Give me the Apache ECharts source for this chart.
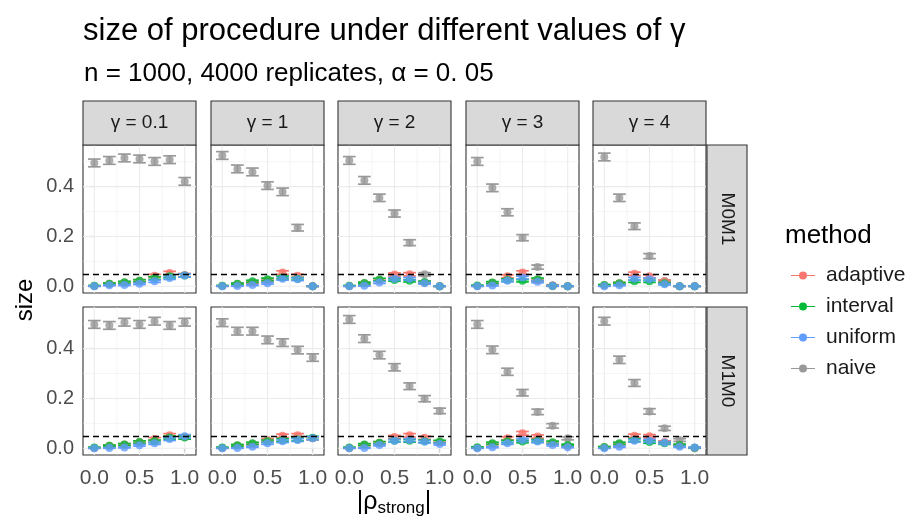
<!DOCTYPE html>
<html>
<head>
<meta charset="utf-8">
<script src="https://cdn.jsdelivr.net/npm/echarts@6/dist/echarts.min.js"></script>
<style>html,body{margin:0;padding:0;background:#fff;}#c{width:914px;height:525px;}</style>
</head>
<body>
<div id="c"></div>
<script>
// ---------- data ----------
const rho = [0, 0.1667, 0.3333, 0.5, 0.6667, 0.8333, 1];
const gammaLabels = ['γ = 0.1', 'γ = 1', 'γ = 2', 'γ = 3', 'γ = 4'];
const rowLabels = ['M0M1', 'M1M0'];
const methods = ['adaptive', 'interval', 'uniform', 'naive'];
const xMajor = [0, 0.5, 1];
const xMinor = [0.25, 0.75];
const yMajor = [0, 0.2, 0.4];
const yMinor = [0.1, 0.3, 0.5];
const xTickLabels = ['0.0', '0.5', '1.0'];
const yTickLabels = ['0.0', '0.2', '0.4'];
const alphaLevel = 0.05;
const nReplicates = 4000;

// rows: M0M1 ; each inner array = one gamma panel (0.1, 1, 2, 3, 4)
const naive_M0M1 = [
  [0.495, 0.505, 0.515, 0.511, 0.501, 0.508, 0.421],
  [0.525, 0.471, 0.459, 0.404, 0.379, 0.235, 0.000],
  [0.505, 0.425, 0.355, 0.292, 0.175, 0.048, 0.000],
  [0.501, 0.395, 0.297, 0.195, 0.077, 0.000, 0.000],
  [0.519, 0.355, 0.241, 0.121, 0.021, 0.000, 0.000]
];
const adaptive_M0M1 = [
  [0.001, 0.010, 0.015, 0.022, 0.042, 0.053, 0.045],
  [0.001, 0.009, 0.015, 0.025, 0.055, 0.042, 0.000],
  [0.001, 0.012, 0.025, 0.047, 0.048, 0.015, 0.000],
  [0.001, 0.014, 0.040, 0.055, 0.025, 0.004, 0.000],
  [0.004, 0.012, 0.050, 0.040, 0.020, 0.000, 0.000]
];
const interval_M0M1 = [
  [0.002, 0.010, 0.016, 0.022, 0.033, 0.040, 0.043],
  [0.002, 0.010, 0.020, 0.028, 0.035, 0.030, 0.000],
  [0.002, 0.013, 0.027, 0.025, 0.022, 0.017, 0.000],
  [0.003, 0.015, 0.025, 0.022, 0.028, 0.002, 0.000],
  [0.005, 0.012, 0.020, 0.020, 0.012, 0.000, 0.000]
];
const uniform_M0M1 = [
  [0.000, 0.004, 0.005, 0.010, 0.020, 0.033, 0.043],
  [0.000, 0.001, 0.005, 0.012, 0.030, 0.028, 0.000],
  [0.000, 0.002, 0.015, 0.030, 0.030, 0.012, 0.000],
  [0.000, 0.003, 0.022, 0.035, 0.018, 0.002, 0.000],
  [0.000, 0.004, 0.030, 0.028, 0.008, 0.000, 0.000]
];
// rows: M1M0
const naive_M1M0 = [
  [0.497, 0.493, 0.506, 0.497, 0.510, 0.493, 0.506],
  [0.504, 0.470, 0.470, 0.435, 0.424, 0.394, 0.364],
  [0.517, 0.440, 0.374, 0.325, 0.249, 0.199, 0.150],
  [0.497, 0.395, 0.307, 0.223, 0.146, 0.090, 0.040],
  [0.510, 0.355, 0.262, 0.148, 0.080, 0.033, 0.000]
];
const adaptive_M1M0 = [
  [0.001, 0.010, 0.015, 0.025, 0.037, 0.052, 0.045],
  [0.001, 0.011, 0.018, 0.033, 0.050, 0.052, 0.040],
  [0.001, 0.014, 0.022, 0.045, 0.052, 0.042, 0.025],
  [0.002, 0.018, 0.040, 0.060, 0.047, 0.022, 0.010],
  [0.004, 0.018, 0.050, 0.048, 0.025, 0.012, 0.002]
];
const interval_M1M0 = [
  [0.003, 0.010, 0.015, 0.025, 0.028, 0.043, 0.043],
  [0.003, 0.012, 0.020, 0.028, 0.033, 0.035, 0.042],
  [0.003, 0.015, 0.022, 0.030, 0.030, 0.028, 0.027],
  [0.004, 0.020, 0.027, 0.027, 0.030, 0.024, 0.013],
  [0.005, 0.020, 0.033, 0.025, 0.020, 0.013, 0.002]
];
const uniform_M1M0 = [
  [0.000, 0.001, 0.003, 0.012, 0.020, 0.037, 0.048],
  [0.000, 0.001, 0.006, 0.020, 0.028, 0.033, 0.040],
  [0.000, 0.001, 0.013, 0.030, 0.033, 0.026, 0.017],
  [0.000, 0.004, 0.020, 0.033, 0.027, 0.013, 0.004],
  [0.000, 0.006, 0.030, 0.030, 0.022, 0.006, 0.003]
];

// ---------- layout / style ----------
const FONT = 'Liberation Sans, Arial, Helvetica, sans-serif';
const COLORS = { adaptive: '#F8766D', interval: '#00BA38', uniform: '#619CFF', naive: '#999999' };
const PANEL_LEFT = [83, 211, 338, 466, 593];
const PANEL_W = 113;
const ROW_TOP = [145, 307];
const PANEL_H = 148;
const STRIP_TOP = 101;
const STRIP_RIGHT_X = 707;
const STRIP_W = 40;

const tableByRow = [
  { adaptive: adaptive_M0M1, interval: interval_M0M1, uniform: uniform_M0M1, naive: naive_M0M1 },
  { adaptive: adaptive_M1M0, interval: interval_M1M0, uniform: uniform_M1M0, naive: naive_M1M0 }
];

function ci(p) { return 1.96 * Math.sqrt(p * (1 - p) / nReplicates); }

const grids = [], xAxes = [], yAxes = [], series = [];
const drawOrder = ['naive', 'adaptive', 'interval', 'uniform'];

const gridLineData = [];
xMajor.forEach(v => gridLineData.push([0, v]));
xMinor.forEach(v => gridLineData.push([1, v]));
yMajor.forEach(v => gridLineData.push([2, v]));
yMinor.forEach(v => gridLineData.push([3, v]));

for (let r = 0; r < 2; r++) {
  for (let c = 0; c < 5; c++) {
    const g = grids.length;
    grids.push({ left: PANEL_LEFT[c], top: ROW_TOP[r], width: PANEL_W, height: PANEL_H,
      show: true, backgroundColor: '#ffffff', borderColor: '#333333', borderWidth: 1.1 });
    xAxes.push({ gridIndex: g, type: 'value', min: -0.125, max: 1.125,
      splitLine: { show: false }, axisLine: { show: false },
      axisTick: { show: r === 1, length: 4, customValues: xMajor, lineStyle: { color: '#333333', width: 1.1 } },
      axisLabel: { show: r === 1, customValues: xMajor, margin: 13, color: '#4D4D4D', fontSize: 21, fontFamily: FONT,
        formatter: v => xTickLabels[xMajor.findIndex(m => Math.abs(m - v) < 1e-9)] }
    });
    yAxes.push({ gridIndex: g, type: 'value', min: -0.027, max: 0.567,
      splitLine: { show: false }, axisLine: { show: false },
      axisTick: { show: c === 0, length: 4, customValues: yMajor, lineStyle: { color: '#333333', width: 1.1 } },
      axisLabel: { show: c === 0, customValues: yMajor, margin: 9, color: '#4D4D4D', fontSize: 20, fontFamily: FONT,
        formatter: v => yTickLabels[yMajor.findIndex(m => Math.abs(m - v) < 1e-9)] }
    });
    // grid lines
    series.push({ type: 'custom', xAxisIndex: g, yAxisIndex: g, silent: true, z: 1,
      data: gridLineData,
      renderItem: function (params, api) {
        const t = api.value(0), v = api.value(1), cs = params.coordSys;
        let shape;
        if (t < 2) { const p = api.coord([v, 0]); shape = { x1: p[0], y1: cs.y, x2: p[0], y2: cs.y + cs.height }; }
        else { const p = api.coord([0, v]); shape = { x1: cs.x, y1: p[1], x2: cs.x + cs.width, y2: p[1] }; }
        return { type: 'line', shape: shape, style: { stroke: '#EBEBEB', lineWidth: (t % 2 === 0) ? 1.1 : 0.55 } };
      }
    });
    const tbl = tableByRow[r];
    // error bars
    drawOrder.forEach(m => {
      const vals = tbl[m][c];
      series.push({ type: 'custom', name: m, xAxisIndex: g, yAxisIndex: g, z: 2, silent: true,
        data: vals.map((p, i) => [rho[i], p, p - ci(p), p + ci(p)]),
        renderItem: function (params, api) {
          const x = api.value(0);
          const top = api.coord([x, api.value(3)]);
          const bot = api.coord([x, api.value(2)]);
          const half = api.coord([x + 0.07, 0])[0] - api.coord([x, 0])[0];
          const st = { stroke: COLORS[m], lineWidth: 1.7 };
          return { type: 'group', children: [
            { type: 'line', shape: { x1: top[0], y1: top[1], x2: bot[0], y2: bot[1] }, style: st },
            { type: 'line', shape: { x1: top[0] - half, y1: top[1], x2: top[0] + half, y2: top[1] }, style: st },
            { type: 'line', shape: { x1: bot[0] - half, y1: bot[1], x2: bot[0] + half, y2: bot[1] }, style: st }
          ] };
        }
      });
    });
    // points
    drawOrder.forEach(m => {
      const vals = tbl[m][c];
      const s = { type: 'scatter', name: m, xAxisIndex: g, yAxisIndex: g, z: 3, silent: true,
        symbol: 'circle', symbolSize: 8, itemStyle: { color: COLORS[m] },
        data: vals.map((p, i) => [rho[i], p]) };
      if (m === 'uniform') {
        s.markLine = { silent: true, symbol: ['none', 'none'], label: { show: false }, animation: false,
          lineStyle: { color: '#000000', type: [6, 4], width: 1.4 }, data: [{ yAxis: alphaLevel }] };
      }
      series.push(s);
    });
  }
}

// strips and texts
const graphics = [];
for (let c = 0; c < 5; c++) {
  graphics.push({ type: 'rect', shape: { x: PANEL_LEFT[c], y: STRIP_TOP, width: PANEL_W, height: ROW_TOP[0] - STRIP_TOP },
    style: { fill: '#D9D9D9', stroke: '#333333', lineWidth: 1.1 }, z: 10 });
  graphics.push({ type: 'text', x: PANEL_LEFT[c] + PANEL_W / 2, y: (STRIP_TOP + ROW_TOP[0]) / 2,
    style: { text: gammaLabels[c], fill: '#1A1A1A', font: '19px ' + FONT, textAlign: 'center', textVerticalAlign: 'middle' }, z: 11 });
}
for (let r = 0; r < 2; r++) {
  graphics.push({ type: 'rect', shape: { x: STRIP_RIGHT_X, y: ROW_TOP[r], width: STRIP_W, height: PANEL_H },
    style: { fill: '#D9D9D9', stroke: '#333333', lineWidth: 1.1 }, z: 10 });
  graphics.push({ type: 'text', x: STRIP_RIGHT_X + STRIP_W / 2, y: ROW_TOP[r] + PANEL_H / 2, rotation: -Math.PI / 2,
    style: { text: rowLabels[r], fill: '#1A1A1A', font: '19px ' + FONT, textAlign: 'center', textVerticalAlign: 'middle' }, z: 11 });
}
graphics.push({ type: 'text', x: 25, y: 300, rotation: Math.PI / 2,
  style: { text: 'size', fill: '#000', font: '24px ' + FONT, textAlign: 'center', textVerticalAlign: 'middle' } });
graphics.push({ type: 'text', x: 394, y: 502,
  style: { text: '{a||ρ}{s|strong}{a||}', textAlign: 'center', textVerticalAlign: 'middle',
    rich: { a: { fontSize: 25, fontFamily: FONT, fill: '#000', lineHeight: 30 },
            s: { fontSize: 17, fontFamily: FONT, fill: '#000', lineHeight: 18, padding: [12, 0, 0, 0] } } } });
graphics.push({ type: 'text', x: 785, y: 236,
  style: { text: 'method', fill: '#000', font: '26px ' + FONT, textAlign: 'left', textVerticalAlign: 'middle' } });

const chart = echarts.init(document.getElementById('c'), null, { renderer: 'canvas' });
chart.setOption({
  animation: false,
  backgroundColor: '#ffffff',
  textStyle: { fontFamily: FONT },
  title: [
    { text: 'size of procedure under different values of γ', left: 78, top: 11,
      textStyle: { fontSize: 31, fontWeight: 'normal', color: '#000', fontFamily: FONT } },
    { text: 'n = 1000, 4000 replicates, α = 0. 05', left: 79, top: 56,
      textStyle: { fontSize: 26, fontWeight: 'normal', color: '#000', fontFamily: FONT } }
  ],
  legend: {
    orient: 'vertical', left: 786, top: 260, itemWidth: 24, itemHeight: 8, itemGap: 10,
    data: methods.map(m => ({ name: m, icon: 'path://M0,3.5 L24,3.5 L24,4.5 L0,4.5 Z M16,4 A4,4 0 1 1 8,4 A4,4 0 1 1 16,4 Z',
      itemStyle: { color: COLORS[m] } })),
    textStyle: { fontSize: 21, color: '#1A1A1A', fontFamily: FONT, padding: [0, 0, 0, 6] },
    selectedMode: false
  },
  grid: grids, xAxis: xAxes, yAxis: yAxes, series: series, graphic: graphics
});
</script>
</body>
</html>
